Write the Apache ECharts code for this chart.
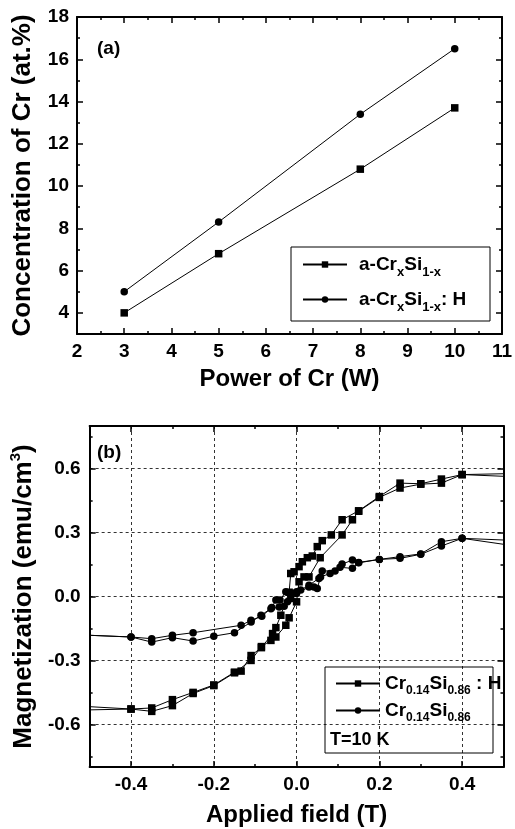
<!DOCTYPE html>
<html>
<head>
<meta charset="utf-8">
<script src="https://cdn.jsdelivr.net/npm/echarts@6/dist/echarts.min.js"></script>
<style>
  html, body { margin: 0; padding: 0; background: #fff; }
  #main { width: 515px; height: 829px; }
</style>
</head>
<body>
<div id="main"></div>
<script>
// ---- (a) Cr content vs. sputtering power ----
const powerCr = [3, 5, 8, 10];
const concCrSi = [4.0, 6.8, 10.8, 13.7];
const concCrSiH = [5.0, 8.3, 13.4, 16.5];
const powerTicks = [2, 3, 4, 5, 6, 7, 8, 9, 10, 11];
const powerMinor = [2.5, 3.5, 4.5, 5.5, 6.5, 7.5, 8.5, 9.5, 10.5];
const concTicks = [4, 6, 8, 10, 12, 14, 16, 18];
const concMinor = [3, 5, 7, 9, 11, 13, 15, 17];

// ---- (b) hysteresis loops at 10 K (field sweeps down, then up) ----
const fieldDownH = [0.6, 0.4, 0.35, 0.3, 0.25, 0.2, 0.15, 0.11, 0.084, 0.062, 0.05, 0.038, 0.026, 0.014, 0.006, -0.006, -0.014, -0.018, -0.038, -0.05, -0.058, -0.085, -0.11, -0.134, -0.15, -0.2, -0.25, -0.3, -0.35, -0.4, -0.6];
const momentDownH = [0.58, 0.572, 0.551, 0.529, 0.532, 0.469, 0.402, 0.36, 0.289, 0.262, 0.234, 0.19, 0.182, 0.163, 0.14, 0.116, 0.108, 0.02, -0.088, -0.146, -0.174, -0.24, -0.277, -0.35, -0.355, -0.415, -0.45, -0.484, -0.523, -0.528, -0.506];
const fieldUpH = [-0.6, -0.4, -0.35, -0.3, -0.25, -0.2, -0.15, -0.11, -0.085, -0.062, -0.05, -0.026, -0.018, 0.0, 0.006, 0.018, 0.03, 0.057, 0.11, 0.135, 0.15, 0.2, 0.25, 0.3, 0.35, 0.4, 0.6];
const momentUpH = [-0.536, -0.528, -0.539, -0.512, -0.455, -0.418, -0.358, -0.30, -0.235, -0.206, -0.19, -0.135, -0.1, -0.025, 0.069, 0.092, 0.092, 0.182, 0.289, 0.36, 0.40, 0.465, 0.509, 0.527, 0.532, 0.572, 0.556];

const fieldDown = [0.6, 0.4, 0.35, 0.3, 0.25, 0.2, 0.15, 0.135, 0.11, 0.093, 0.062, 0.054, 0.03, 0.01, 0.0, -0.01, -0.026, -0.04, -0.05, -0.06, -0.084, -0.11, -0.134, -0.25, -0.3, -0.35, -0.4, -0.6];
const momentDown = [0.257, 0.273, 0.257, 0.2, 0.187, 0.174, 0.16, 0.171, 0.152, 0.12, 0.12, 0.085, 0.053, 0.03, 0.022, 0.015, 0.022, -0.017, -0.017, -0.052, -0.093, -0.112, -0.135, -0.17, -0.182, -0.198, -0.19, -0.174];
const fieldUp = [-0.6, -0.4, -0.35, -0.3, -0.25, -0.2, -0.15, -0.11, -0.086, -0.062, -0.042, -0.03, -0.022, -0.014, 0.0, 0.03, 0.042, 0.05, 0.058, 0.081, 0.105, 0.135, 0.15, 0.2, 0.25, 0.3, 0.35, 0.4, 0.6];
const momentUp = [-0.168, -0.19, -0.214, -0.193, -0.209, -0.186, -0.17, -0.12, -0.088, -0.057, -0.049, -0.046, -0.025, -0.01, 0.014, 0.045, 0.045, 0.038, 0.092, 0.108, 0.137, 0.132, 0.158, 0.174, 0.179, 0.198, 0.237, 0.273, 0.217];

const fieldTicks = [-0.4, -0.2, 0, 0.2, 0.4];
const fieldMinor = [-0.3, -0.1, 0.1, 0.3];
const momentTicks = [-0.6, -0.3, 0, 0.3, 0.6];
const momentMinor = [-0.75, -0.45, -0.15, 0.15, 0.45, 0.75];

const FONT = 'Liberation Sans';
const pairs = (xs, ys) => xs.map((x, i) => [x, ys[i]]);

// box frame: labelled axis + minor ticks, mirrored on the opposite side
function boxAxes(grid, dim, o) {
  const sides = dim === 'x' ? ['bottom', 'top'] : ['left', 'right'];
  const out = [];
  sides.forEach((side, k) => {
    out.push({
      type: 'value', gridIndex: grid, position: side, min: o.min, max: o.max,
      name: k === 0 ? o.name : '', nameLocation: 'middle', nameGap: o.nameGap,
      nameTextStyle: o.nameStyle,
      axisLine: { show: true, onZero: false, lineStyle: { color: '#000', width: 2 } },
      axisTick: { show: true, inside: true, length: 6, customValues: o.major, lineStyle: { color: '#000', width: 1.5 } },
      axisLabel: {
        show: k === 0, customValues: o.major, formatter: o.fmt, margin: o.margin,
        color: '#000', fontFamily: FONT, fontWeight: 'bold', fontSize: 19
      },
      splitLine: { show: k === 0 && !!o.grid, lineStyle: { color: '#333', width: 1, type: [3, 3] } }
    });
    out.push({
      type: 'value', gridIndex: grid, position: side, min: o.min, max: o.max,
      axisLine: { show: false, onZero: false },
      axisTick: { show: true, inside: true, length: 3, customValues: o.minor, lineStyle: { color: '#000', width: 1.5 } },
      axisLabel: { show: false },
      splitLine: { show: false }
    });
  });
  return out;
}

const titleStyle = size => ({ fontFamily: FONT, fontWeight: 'bold', fontSize: size, color: '#000' });

const chart = echarts.init(document.getElementById('main'));

const richA = {
  f: { fontFamily: FONT, fontWeight: 'bold', fontSize: 19, color: '#000', padding: [0, 0, 0, 7] },
  m: { fontFamily: FONT, fontWeight: 'bold', fontSize: 19, color: '#000' },
  s: { fontFamily: FONT, fontWeight: 'bold', fontSize: 13, color: '#000', padding: [15, 0, 0, 0] }
};
const richB = {
  m: { fontFamily: FONT, fontWeight: 'bold', fontSize: 19, color: '#000' },
  s: { fontFamily: FONT, fontWeight: 'bold', fontSize: 12, color: '#000', padding: [15, 0, 0, 0] }
};

const nameA1 = 'a-CrxSi1-x', nameA2 = 'a-CrxSi1-x:H';
const nameB1 = 'Cr0.14Si0.86:H', nameB2 = 'Cr0.14Si0.86';
const legendText = {};
legendText[nameA1] = '{f|a-Cr}{s|x}{m|Si}{s|1-x}';
legendText[nameA2] = '{f|a-Cr}{s|x}{m|Si}{s|1-x}{m|: H}';
legendText[nameB1] = '{m|Cr}{s|0.14}{m|Si}{s|0.86}{m| : H}';
legendText[nameB2] = '{m|Cr}{s|0.14}{m|Si}{s|0.86}';

function legendItem(name, left, top, rich) {
  return {
    data: [name], left: left, top: top, padding: 0, orient: 'vertical',
    itemWidth: 44, itemHeight: 8, selectedMode: false,
    formatter: n => legendText[n],
    textStyle: { rich: rich }
  };
}

const lineSeries = (name, xi, data, symbol) => ({
  type: 'line', name: name, xAxisIndex: xi, yAxisIndex: xi, data: data,
  symbol: symbol, symbolSize: 7.5, showSymbol: true,
  lineStyle: { color: '#000', width: 1 }, itemStyle: { color: '#000' },
  emphasis: { disabled: true }
});

const option = {
  animation: false,
  backgroundColor: '#fff',
  grid: [
    { left: 77, top: 17, width: 429, height: 317 },
    { left: 85.5, top: 426, width: 418, height: 341 }
  ],
  xAxis: [].concat(
    boxAxes(0, 'x', { min: 2, max: 11, major: powerTicks, minor: powerMinor, fmt: v => String(v), margin: 8,
      name: 'Power of Cr (W)', nameGap: 33, nameStyle: titleStyle(24) }),
    boxAxes(1, 'x', { min: -0.5, max: 0.5, major: fieldTicks, minor: fieldMinor, fmt: v => v.toFixed(1), margin: 8, grid: true,
      name: 'Applied field (T)', nameGap: 36, nameStyle: titleStyle(24) })
  ),
  yAxis: [].concat(
    boxAxes(0, 'y', { min: 3, max: 18, major: concTicks, minor: concMinor, fmt: v => String(v), margin: 8,
      name: 'Concentration of Cr (at.%)', nameGap: 41, nameStyle: titleStyle(26) }),
    boxAxes(1, 'y', { min: -0.8, max: 0.8, major: momentTicks, minor: momentMinor, fmt: v => v.toFixed(1), margin: 9, grid: true,
      name: '{m|Magnetization (emu/cm}{sup|3}{m|)}', nameGap: 48,
      nameStyle: { rich: {
        m: titleStyle(26),
        sup: Object.assign(titleStyle(15), { padding: [0, 0, 17, 0] })
      } } })
  ),
  legend: [
    legendItem(nameA1, 302, 255, richA),
    legendItem(nameA2, 302, 290, richA),
    legendItem(nameB1, 335, 674, richB),
    legendItem(nameB2, 335, 701, richB)
  ],
  series: [
    lineSeries(nameA1, 0, pairs(powerCr, concCrSi), 'rect'),
    lineSeries(nameA2, 0, pairs(powerCr, concCrSiH), 'circle'),
    lineSeries(nameB1, 4, pairs(fieldDownH.concat(fieldUpH), momentDownH.concat(momentUpH)), 'rect'),
    lineSeries(nameB2, 4, pairs(fieldDown.concat(fieldUp), momentDown.concat(momentUp)), 'circle')
  ],
  graphic: [
    { type: 'rect', shape: { x: 291, y: 247, width: 199, height: 74 }, style: { fill: 'none', stroke: '#000', lineWidth: 1 }, z: 10 },
    { type: 'rect', shape: { x: 325, y: 667, width: 168, height: 86 }, style: { fill: 'none', stroke: '#000', lineWidth: 1 }, z: 10 },
    { type: 'text', x: 97, y: 49, style: { text: '(a)', font: 'bold 19px "Liberation Sans"', fill: '#000', verticalAlign: 'middle' }, z: 10 },
    { type: 'text', x: 97, y: 453, style: { text: '(b)', font: 'bold 19px "Liberation Sans"', fill: '#000', verticalAlign: 'middle' }, z: 10 },
    { type: 'text', x: 330, y: 740, style: { text: 'T=10 K', font: 'bold 18px "Liberation Sans"', fill: '#000', verticalAlign: 'middle' }, z: 10 }
  ]
};

chart.setOption(option);
</script>
</body>
</html>
